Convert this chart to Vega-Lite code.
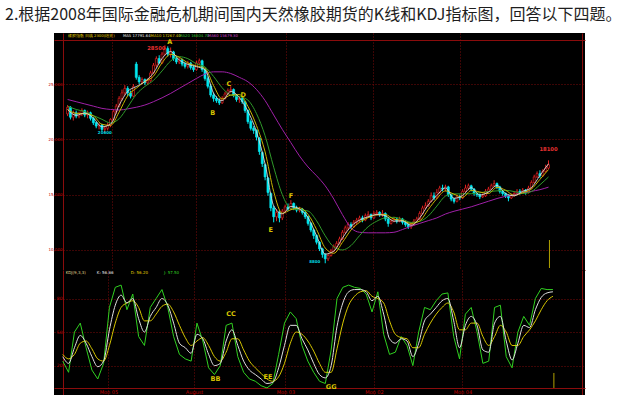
{
"$schema": "https://vega.github.io/schema/vega-lite/v6.json",
"background": "#ffffff",
"padding": {"left": 5, "top": 7, "right": 0, "bottom": 0},
"bounds": "flush",
"title": {"text": "2.根据2008年国际金融危机期间国内天然橡胶期货的K线和KDJ指标图，回答以下四题。", "anchor": "start", "dx": -43, "fontSize": 16, "font": "Noto Sans CJK SC", "fontWeight": "normal", "color": "#1e1e1e", "offset": 10},
"spacing": 0,
"config": {"view": {"fill": "#000000", "stroke": null}, "axis": {"labelFont": "DejaVu Sans"}, "text": {"font": "DejaVu Sans"}},
"datasets": {
"candles": [
{"date":"2008-03-19","open":22300,"high":23100,"low":22100,"close":22900},
{"date":"2008-03-22","open":22900,"high":23000,"low":21800,"close":22000},
{"date":"2008-03-25","open":22000,"high":22600,"low":21700,"close":22400},
{"date":"2008-03-28","open":22400,"high":22600,"low":21900,"close":22100},
{"date":"2008-03-31","open":22100,"high":22500,"low":21900,"close":22300},
{"date":"2008-04-03","open":22300,"high":22800,"low":22100,"close":22600},
{"date":"2008-04-06","open":22600,"high":22700,"low":22000,"close":22200},
{"date":"2008-04-09","open":22200,"high":22600,"low":21900,"close":22400},
{"date":"2008-04-12","open":22400,"high":22500,"low":21700,"close":21900},
{"date":"2008-04-15","open":21900,"high":22000,"low":21300,"close":21500},
{"date":"2008-04-18","open":21500,"high":21600,"low":21000,"close":21200},
{"date":"2008-04-21","open":21200,"high":21500,"low":20900,"close":21300},
{"date":"2008-04-24","open":21300,"high":21400,"low":20700,"close":20900},
{"date":"2008-04-27","open":20900,"high":21200,"low":20600,"close":21000},
{"date":"2008-04-30","open":21000,"high":21500,"low":20800,"close":21300},
{"date":"2008-05-03","open":21300,"high":21900,"low":21100,"close":21800},
{"date":"2008-05-06","open":21800,"high":22700,"low":21700,"close":22500},
{"date":"2008-05-09","open":22500,"high":23200,"low":22300,"close":23000},
{"date":"2008-05-12","open":23000,"high":23900,"low":22900,"close":23700},
{"date":"2008-05-15","open":23700,"high":24500,"low":23500,"close":24200},
{"date":"2008-05-18","open":24200,"high":24900,"low":24000,"close":24600},
{"date":"2008-05-21","open":24600,"high":24800,"low":23900,"close":24200},
{"date":"2008-05-24","open":24200,"high":24400,"low":23700,"close":23900},
{"date":"2008-05-27","open":23900,"high":25000,"low":23800,"close":24800},
{"date":"2008-05-30","open":26800,"high":27000,"low":25400,"close":25600},
{"date":"2008-06-02","open":25600,"high":25800,"low":25000,"close":25200},
{"date":"2008-06-05","open":25200,"high":25600,"low":25000,"close":25400},
{"date":"2008-06-08","open":25400,"high":25500,"low":24900,"close":25100},
{"date":"2008-06-11","open":25100,"high":25500,"low":24900,"close":25300},
{"date":"2008-06-14","open":25300,"high":26200,"low":25200,"close":26000},
{"date":"2008-06-17","open":26000,"high":26900,"low":25900,"close":26700},
{"date":"2008-06-20","open":26700,"high":27500,"low":26500,"close":27300},
{"date":"2008-06-23","open":27300,"high":27600,"low":26800,"close":26900},
{"date":"2008-06-26","open":26900,"high":27900,"low":26800,"close":27700},
{"date":"2008-06-29","open":27700,"high":28500,"low":27600,"close":28200},
{"date":"2008-07-02","open":28200,"high":28400,"low":27500,"close":27700},
{"date":"2008-07-05","open":27700,"high":28300,"low":27400,"close":27900},
{"date":"2008-07-08","open":27900,"high":28000,"low":27100,"close":27300},
{"date":"2008-07-11","open":27300,"high":27500,"low":26800,"close":27000},
{"date":"2008-07-14","open":27000,"high":27400,"low":26800,"close":27200},
{"date":"2008-07-17","open":27200,"high":27300,"low":26600,"close":26800},
{"date":"2008-07-20","open":26800,"high":27000,"low":26400,"close":26600},
{"date":"2008-07-23","open":26600,"high":27100,"low":26400,"close":26900},
{"date":"2008-07-26","open":26900,"high":27000,"low":26300,"close":26500},
{"date":"2008-07-29","open":26500,"high":26700,"low":26100,"close":26300},
{"date":"2008-08-01","open":26300,"high":27100,"low":26200,"close":26900},
{"date":"2008-08-04","open":26900,"high":27300,"low":26700,"close":27100},
{"date":"2008-08-07","open":27100,"high":27200,"low":26100,"close":26300},
{"date":"2008-08-10","open":26300,"high":26400,"low":25300,"close":25500},
{"date":"2008-08-13","open":25500,"high":25700,"low":24600,"close":24800},
{"date":"2008-08-16","open":24800,"high":25000,"low":23800,"close":24000},
{"date":"2008-08-19","open":24000,"high":24200,"low":23400,"close":23700},
{"date":"2008-08-22","open":23700,"high":23900,"low":23300,"close":23500},
{"date":"2008-08-25","open":23500,"high":23700,"low":23100,"close":23300},
{"date":"2008-08-28","open":23300,"high":23900,"low":23200,"close":23700},
{"date":"2008-08-31","open":23700,"high":24300,"low":23600,"close":24100},
{"date":"2008-09-03","open":24100,"high":24600,"low":24000,"close":24400},
{"date":"2008-09-06","open":24400,"high":24800,"low":24200,"close":24500},
{"date":"2008-09-09","open":24500,"high":24600,"low":23800,"close":24000},
{"date":"2008-09-12","open":24000,"high":24100,"low":23400,"close":23600},
{"date":"2008-09-15","open":23600,"high":23900,"low":23300,"close":23700},
{"date":"2008-09-18","open":23700,"high":23900,"low":23200,"close":23400},
{"date":"2008-09-21","open":23400,"high":23500,"low":22400,"close":22600},
{"date":"2008-09-24","open":22600,"high":22700,"low":21400,"close":21600},
{"date":"2008-09-27","open":21600,"high":21800,"low":20800,"close":21000},
{"date":"2008-09-30","open":21000,"high":21200,"low":20500,"close":20800},
{"date":"2008-10-03","open":20800,"high":20900,"low":19900,"close":20200},
{"date":"2008-10-06","open":20100,"high":20200,"low":18600,"close":18900},
{"date":"2008-10-09","open":18800,"high":18900,"low":17500,"close":17800},
{"date":"2008-10-12","open":17700,"high":17800,"low":16300,"close":16600},
{"date":"2008-10-15","open":16500,"high":16600,"low":14900,"close":15200},
{"date":"2008-10-18","open":15100,"high":15200,"low":13500,"close":13800},
{"date":"2008-10-21","open":13800,"high":14000,"low":12500,"close":13000},
{"date":"2008-10-24","open":13000,"high":13700,"low":12600,"close":13400},
{"date":"2008-10-27","open":13400,"high":13600,"low":12500,"close":12900},
{"date":"2008-10-30","open":12900,"high":13700,"low":12700,"close":13500},
{"date":"2008-11-02","open":13500,"high":14100,"low":13300,"close":13900},
{"date":"2008-11-05","open":13900,"high":14200,"low":13500,"close":13700},
{"date":"2008-11-08","open":13700,"high":14500,"low":13600,"close":14200},
{"date":"2008-11-11","open":14200,"high":14300,"low":13600,"close":13800},
{"date":"2008-11-14","open":13800,"high":14000,"low":13400,"close":13600},
{"date":"2008-11-17","open":13600,"high":13900,"low":13400,"close":13700},
{"date":"2008-11-20","open":13700,"high":13800,"low":13200,"close":13400},
{"date":"2008-11-23","open":13400,"high":13500,"low":12800,"close":13000},
{"date":"2008-11-26","open":13000,"high":13100,"low":12200,"close":12400},
{"date":"2008-11-29","open":12400,"high":12500,"low":11600,"close":11800},
{"date":"2008-12-02","open":11800,"high":11900,"low":11000,"close":11300},
{"date":"2008-12-05","open":11300,"high":11400,"low":10500,"close":10700},
{"date":"2008-12-08","open":10700,"high":10800,"low":9900,"close":10100},
{"date":"2008-12-11","open":10100,"high":10200,"low":9300,"close":9600},
{"date":"2008-12-14","open":9600,"high":9700,"low":8800,"close":9200},
{"date":"2008-12-17","open":9200,"high":9700,"low":9000,"close":9500},
{"date":"2008-12-20","open":9500,"high":10100,"low":9400,"close":9900},
{"date":"2008-12-23","open":9900,"high":10500,"low":9800,"close":10300},
{"date":"2008-12-26","open":10300,"high":10800,"low":10100,"close":10600},
{"date":"2008-12-29","open":10600,"high":11200,"low":10500,"close":11000},
{"date":"2009-01-01","open":11000,"high":11800,"low":10900,"close":11600},
{"date":"2009-01-04","open":11600,"high":12200,"low":11500,"close":12000},
{"date":"2009-01-07","open":12000,"high":12500,"low":11800,"close":12300},
{"date":"2009-01-10","open":12300,"high":12500,"low":11900,"close":12100},
{"date":"2009-01-13","open":12100,"high":12700,"low":12000,"close":12500},
{"date":"2009-01-16","open":12500,"high":12900,"low":12300,"close":12700},
{"date":"2009-01-19","open":12700,"high":13100,"low":12500,"close":12900},
{"date":"2009-01-22","open":12900,"high":13100,"low":12500,"close":12700},
{"date":"2009-01-25","open":12700,"high":13300,"low":12600,"close":13100},
{"date":"2009-01-28","open":13100,"high":13500,"low":12900,"close":13200},
{"date":"2009-01-31","open":13200,"high":13300,"low":12700,"close":12900},
{"date":"2009-02-03","open":12900,"high":13500,"low":12800,"close":13300},
{"date":"2009-02-06","open":13300,"high":13600,"low":13100,"close":13400},
{"date":"2009-02-09","open":13400,"high":13500,"low":13000,"close":13200},
{"date":"2009-02-12","open":13200,"high":13600,"low":13000,"close":13300},
{"date":"2009-02-15","open":13300,"high":13400,"low":12600,"close":12800},
{"date":"2009-02-18","open":12800,"high":12900,"low":12100,"close":12400},
{"date":"2009-02-21","open":12400,"high":12800,"low":12300,"close":12600},
{"date":"2009-02-24","open":12600,"high":13000,"low":12500,"close":12800},
{"date":"2009-02-27","open":12800,"high":12900,"low":12400,"close":12600},
{"date":"2009-03-02","open":12600,"high":13000,"low":12500,"close":12800},
{"date":"2009-03-05","open":12800,"high":12900,"low":12300,"close":12500},
{"date":"2009-03-08","open":12500,"high":12600,"low":12100,"close":12300},
{"date":"2009-03-11","open":12300,"high":12400,"low":11900,"close":12100},
{"date":"2009-03-14","open":12100,"high":12400,"low":11900,"close":12300},
{"date":"2009-03-17","open":12300,"high":12800,"low":12200,"close":12600},
{"date":"2009-03-20","open":12600,"high":13000,"low":12500,"close":12800},
{"date":"2009-03-23","open":12800,"high":13500,"low":12700,"close":13300},
{"date":"2009-03-26","open":13300,"high":14000,"low":13200,"close":13800},
{"date":"2009-03-29","open":13800,"high":14300,"low":13700,"close":14000},
{"date":"2009-04-01","open":14000,"high":14600,"low":13900,"close":14400},
{"date":"2009-04-04","open":14400,"high":15200,"low":14300,"close":14900},
{"date":"2009-04-07","open":14900,"high":15200,"low":14500,"close":14700},
{"date":"2009-04-10","open":14700,"high":15500,"low":14600,"close":15200},
{"date":"2009-04-13","open":15200,"high":15800,"low":15100,"close":15600},
{"date":"2009-04-16","open":15600,"high":15900,"low":15300,"close":15500},
{"date":"2009-04-19","open":15500,"high":15900,"low":15300,"close":15700},
{"date":"2009-04-22","open":15700,"high":15800,"low":14800,"close":15000},
{"date":"2009-04-25","open":15000,"high":15100,"low":14400,"close":14600},
{"date":"2009-04-28","open":14600,"high":14700,"low":14200,"close":14400},
{"date":"2009-05-01","open":14400,"high":15000,"low":14300,"close":14800},
{"date":"2009-05-04","open":14800,"high":15000,"low":14500,"close":14700},
{"date":"2009-05-07","open":14700,"high":15500,"low":14600,"close":15300},
{"date":"2009-05-10","open":15300,"high":15900,"low":15200,"close":15600},
{"date":"2009-05-13","open":15600,"high":16000,"low":15400,"close":15800},
{"date":"2009-05-16","open":15800,"high":15900,"low":15300,"close":15500},
{"date":"2009-05-19","open":15500,"high":15600,"low":14900,"close":15100},
{"date":"2009-05-22","open":15100,"high":15200,"low":14800,"close":15000},
{"date":"2009-05-25","open":15000,"high":15100,"low":14600,"close":14800},
{"date":"2009-05-28","open":14800,"high":15100,"low":14700,"close":14900},
{"date":"2009-05-31","open":14900,"high":15500,"low":14800,"close":15300},
{"date":"2009-06-03","open":15300,"high":15700,"low":15200,"close":15500},
{"date":"2009-06-06","open":15500,"high":16000,"low":15400,"close":15800},
{"date":"2009-06-09","open":15800,"high":16300,"low":15700,"close":16000},
{"date":"2009-06-12","open":16000,"high":16100,"low":15500,"close":15700},
{"date":"2009-06-15","open":15700,"high":15800,"low":15100,"close":15300},
{"date":"2009-06-18","open":15300,"high":15400,"low":14900,"close":15100},
{"date":"2009-06-21","open":15100,"high":15200,"low":14700,"close":14900},
{"date":"2009-06-24","open":14900,"high":15000,"low":14400,"close":14700},
{"date":"2009-06-27","open":14700,"high":15100,"low":14600,"close":14900},
{"date":"2009-06-30","open":14900,"high":15300,"low":14800,"close":15100},
{"date":"2009-07-03","open":15100,"high":15500,"low":15000,"close":15300},
{"date":"2009-07-06","open":15300,"high":15500,"low":15000,"close":15200},
{"date":"2009-07-09","open":15200,"high":15600,"low":15100,"close":15400},
{"date":"2009-07-12","open":15400,"high":15500,"low":15000,"close":15200},
{"date":"2009-07-15","open":15200,"high":15800,"low":15100,"close":15600},
{"date":"2009-07-18","open":15600,"high":16300,"low":15500,"close":16100},
{"date":"2009-07-21","open":16100,"high":16800,"low":16000,"close":16600},
{"date":"2009-07-24","open":16600,"high":17100,"low":16500,"close":16900},
{"date":"2009-07-27","open":16900,"high":17200,"low":16500,"close":16700},
{"date":"2009-07-30","open":16700,"high":17300,"low":16600,"close":17100},
{"date":"2009-08-02","open":17100,"high":17700,"low":17000,"close":17400},
{"date":"2009-08-05","open":17400,"high":18100,"low":17300,"close":17700}
],
"ma": [
{"date":"2008-03-19","ma5":22700,"ma10":22700,"ma20":23000,"ma60":23600},
{"date":"2008-03-28","ma5":22170,"ma10":22350,"ma20":22700,"ma60":23400},
{"date":"2008-04-06","ma5":22370,"ma10":22320,"ma20":22500,"ma60":23200},
{"date":"2008-04-15","ma5":21930,"ma10":22120,"ma20":22150,"ma60":23000},
{"date":"2008-04-24","ma5":21130,"ma10":21360,"ma20":21810,"ma60":22800},
{"date":"2008-05-03","ma5":21370,"ma10":21260,"ma20":21480,"ma60":22700},
{"date":"2008-05-12","ma5":23070,"ma10":22460,"ma20":21860,"ma60":22650},
{"date":"2008-05-21","ma5":24330,"ma10":23940,"ma20":22920,"ma60":22750},
{"date":"2008-05-30","ma5":24770,"ma10":24620,"ma20":24060,"ma60":22900},
{"date":"2008-06-08","ma5":25230,"ma10":25220,"ma20":24780,"ma60":23100},
{"date":"2008-06-17","ma5":26000,"ma10":25700,"ma20":25330,"ma60":23400},
{"date":"2008-06-26","ma5":27300,"ma10":26920,"ma20":26180,"ma60":23750},
{"date":"2008-07-05","ma5":27930,"ma10":27680,"ma20":27080,"ma60":24150},
{"date":"2008-07-14","ma5":27170,"ma10":27420,"ma20":27470,"ma60":24600},
{"date":"2008-07-23","ma5":26770,"ma10":26900,"ma20":27290,"ma60":25050},
{"date":"2008-08-01","ma5":26570,"ma10":26640,"ma20":26830,"ma60":25500},
{"date":"2008-08-10","ma5":26300,"ma10":26420,"ma20":26540,"ma60":25900},
{"date":"2008-08-19","ma5":24170,"ma10":24860,"ma20":25680,"ma60":26100},
{"date":"2008-08-28","ma5":23500,"ma10":23640,"ma20":24660,"ma60":26100},
{"date":"2008-09-06","ma5":24330,"ma10":24000,"ma20":24000,"ma60":25950},
{"date":"2008-09-15","ma5":23770,"ma10":24040,"ma20":23870,"ma60":25600},
{"date":"2008-09-24","ma5":22530,"ma10":22980,"ma20":23540,"ma60":25200},
{"date":"2008-10-03","ma5":20670,"ma10":21240,"ma20":22320,"ma60":24500},
{"date":"2008-10-12","ma5":17770,"ma10":18860,"ma20":20320,"ma60":23500},
{"date":"2008-10-21","ma5":14000,"ma10":15280,"ma20":17480,"ma60":22200},
{"date":"2008-10-30","ma5":13270,"ma10":13320,"ma20":15010,"ma60":20900},
{"date":"2008-11-08","ma5":13930,"ma10":13640,"ma20":13730,"ma60":19700},
{"date":"2008-11-17","ma5":13700,"ma10":13800,"ma20":13630,"ma60":18500},
{"date":"2008-11-26","ma5":12930,"ma10":13220,"ma20":13520,"ma60":17500},
{"date":"2008-12-05","ma5":11270,"ma10":11840,"ma20":12630,"ma60":16700},
{"date":"2008-12-14","ma5":9630,"ma10":10180,"ma20":11280,"ma60":15800},
{"date":"2008-12-23","ma5":9900,"ma10":9700,"ma20":10270,"ma60":14600},
{"date":"2009-01-01","ma5":11070,"ma10":10680,"ma20":10000,"ma60":13200},
{"date":"2009-01-10","ma5":12130,"ma10":11800,"ma20":10400,"ma60":12000},
{"date":"2009-01-19","ma5":12700,"ma10":12500,"ma20":11300,"ma60":11600},
{"date":"2009-01-28","ma5":13000,"ma10":12920,"ma20":12100,"ma60":11550},
{"date":"2009-02-06","ma5":13200,"ma10":13180,"ma20":12600,"ma60":11550},
{"date":"2009-02-15","ma5":13100,"ma10":13200,"ma20":12900,"ma60":11550},
{"date":"2009-02-24","ma5":12600,"ma10":12780,"ma20":12950,"ma60":11600},
{"date":"2009-03-05","ma5":12630,"ma10":12660,"ma20":12780,"ma60":11850},
{"date":"2009-03-14","ma5":12230,"ma10":12400,"ma20":12490,"ma60":12150},
{"date":"2009-03-23","ma5":12900,"ma10":12620,"ma20":12590,"ma60":12400},
{"date":"2009-04-01","ma5":14070,"ma10":13660,"ma20":13070,"ma60":12650},
{"date":"2009-04-10","ma5":14930,"ma10":14640,"ma20":13970,"ma60":12900},
{"date":"2009-04-19","ma5":15600,"ma10":15340,"ma20":14870,"ma60":13250},
{"date":"2009-04-28","ma5":14670,"ma10":15040,"ma20":15070,"ma60":13500},
{"date":"2009-05-07","ma5":14930,"ma10":14760,"ma20":15070,"ma60":13700},
{"date":"2009-05-16","ma5":15630,"ma10":15380,"ma20":15080,"ma60":13900},
{"date":"2009-05-25","ma5":14970,"ma10":15240,"ma20":15180,"ma60":14150},
{"date":"2009-06-03","ma5":15230,"ma10":15100,"ma20":15280,"ma60":14400},
{"date":"2009-06-12","ma5":15830,"ma10":15660,"ma20":15340,"ma60":14650},
{"date":"2009-06-21","ma5":15100,"ma10":15400,"ma20":15390,"ma60":14850},
{"date":"2009-06-30","ma5":14900,"ma10":14940,"ma20":15280,"ma60":15000},
{"date":"2009-07-09","ma5":15300,"ma10":15180,"ma20":15100,"ma60":15150},
{"date":"2009-07-18","ma5":15630,"ma10":15500,"ma20":15280,"ma60":15300},
{"date":"2009-07-27","ma5":16730,"ma10":16380,"ma20":15890,"ma60":15450},
{"date":"2009-08-05","ma5":17790,"ma10":17270,"ma20":16600,"ma60":15680}
],
"kdj": [
{"date":"2008-03-19","K":28,"D":30,"J":24},
{"date":"2008-03-25","K":22,"D":26,"J":14},
{"date":"2008-03-31","K":36,"D":30,"J":50},
{"date":"2008-04-06","K":47,"D":40,"J":58},
{"date":"2008-04-12","K":40,"D":42,"J":36},
{"date":"2008-04-18","K":28,"D":35,"J":16},
{"date":"2008-04-24","K":19,"D":26,"J":8},
{"date":"2008-04-30","K":24,"D":24,"J":22},
{"date":"2008-05-06","K":52,"D":38,"J":72},
{"date":"2008-05-12","K":74,"D":58,"J":90},
{"date":"2008-05-18","K":83,"D":72,"J":92},
{"date":"2008-05-24","K":76,"D":76,"J":70},
{"date":"2008-05-30","K":80,"D":78,"J":84},
{"date":"2008-06-05","K":62,"D":72,"J":46},
{"date":"2008-06-11","K":50,"D":60,"J":38},
{"date":"2008-06-17","K":64,"D":60,"J":72},
{"date":"2008-06-23","K":72,"D":66,"J":80},
{"date":"2008-06-29","K":80,"D":73,"J":88},
{"date":"2008-07-05","K":74,"D":75,"J":72},
{"date":"2008-07-11","K":58,"D":68,"J":46},
{"date":"2008-07-17","K":40,"D":56,"J":30},
{"date":"2008-07-23","K":36,"D":45,"J":26},
{"date":"2008-07-29","K":31,"D":38,"J":24},
{"date":"2008-08-04","K":48,"D":42,"J":58},
{"date":"2008-08-10","K":44,"D":45,"J":42},
{"date":"2008-08-16","K":30,"D":38,"J":18},
{"date":"2008-08-22","K":20,"D":28,"J":12},
{"date":"2008-08-28","K":22,"D":24,"J":20},
{"date":"2008-09-03","K":42,"D":32,"J":56},
{"date":"2008-09-09","K":52,"D":44,"J":58},
{"date":"2008-09-15","K":38,"D":44,"J":28},
{"date":"2008-09-21","K":24,"D":34,"J":14},
{"date":"2008-09-27","K":16,"D":24,"J":8},
{"date":"2008-10-03","K":12,"D":18,"J":6},
{"date":"2008-10-09","K":8,"D":13,"J":2},
{"date":"2008-10-15","K":4,"D":8,"J":0},
{"date":"2008-10-21","K":5,"D":6,"J":4},
{"date":"2008-10-27","K":18,"D":10,"J":30},
{"date":"2008-11-02","K":38,"D":22,"J":58},
{"date":"2008-11-08","K":56,"D":40,"J":68},
{"date":"2008-11-14","K":56,"D":50,"J":62},
{"date":"2008-11-20","K":44,"D":48,"J":38},
{"date":"2008-11-26","K":34,"D":42,"J":24},
{"date":"2008-12-02","K":22,"D":33,"J":14},
{"date":"2008-12-08","K":12,"D":22,"J":6},
{"date":"2008-12-14","K":9,"D":14,"J":4},
{"date":"2008-12-20","K":20,"D":14,"J":34},
{"date":"2008-12-26","K":55,"D":35,"J":80},
{"date":"2009-01-01","K":76,"D":58,"J":90},
{"date":"2009-01-07","K":86,"D":74,"J":92},
{"date":"2009-01-13","K":88,"D":82,"J":90},
{"date":"2009-01-19","K":88,"D":86,"J":89},
{"date":"2009-01-25","K":86,"D":87,"J":84},
{"date":"2009-01-31","K":78,"D":82,"J":68},
{"date":"2009-02-06","K":82,"D":80,"J":86},
{"date":"2009-02-12","K":66,"D":76,"J":48},
{"date":"2009-02-18","K":44,"D":60,"J":30},
{"date":"2009-02-24","K":40,"D":48,"J":32},
{"date":"2009-03-02","K":44,"D":45,"J":46},
{"date":"2009-03-08","K":42,"D":44,"J":38},
{"date":"2009-03-14","K":28,"D":36,"J":20},
{"date":"2009-03-20","K":40,"D":36,"J":50},
{"date":"2009-03-26","K":60,"D":48,"J":72},
{"date":"2009-04-01","K":66,"D":58,"J":70},
{"date":"2009-04-07","K":72,"D":66,"J":78},
{"date":"2009-04-13","K":78,"D":72,"J":84},
{"date":"2009-04-19","K":80,"D":76,"J":85},
{"date":"2009-04-25","K":60,"D":68,"J":46},
{"date":"2009-05-01","K":36,"D":52,"J":26},
{"date":"2009-05-07","K":56,"D":52,"J":66},
{"date":"2009-05-13","K":64,"D":58,"J":72},
{"date":"2009-05-19","K":56,"D":58,"J":50},
{"date":"2009-05-25","K":34,"D":46,"J":22},
{"date":"2009-05-31","K":32,"D":38,"J":24},
{"date":"2009-06-06","K":58,"D":46,"J":72},
{"date":"2009-06-12","K":64,"D":56,"J":74},
{"date":"2009-06-18","K":42,"D":50,"J":28},
{"date":"2009-06-24","K":25,"D":38,"J":18},
{"date":"2009-06-30","K":40,"D":38,"J":50},
{"date":"2009-07-06","K":56,"D":46,"J":64},
{"date":"2009-07-12","K":54,"D":52,"J":56},
{"date":"2009-07-18","K":70,"D":60,"J":80},
{"date":"2009-07-24","K":81,"D":70,"J":89},
{"date":"2009-07-30","K":85,"D":78,"J":88},
{"date":"2009-08-05","K":86,"D":82,"J":88}
],
"pmarks": [
{"date":"2008-07-04","price":28800,"text":"A","kind":"point"},
{"date":"2008-08-18","price":22380,"text":"B","kind":"point"},
{"date":"2008-09-04","price":25000,"text":"C","kind":"point"},
{"date":"2008-09-19","price":24010,"text":"D","kind":"point"},
{"date":"2008-10-18","price":11800,"text":"E","kind":"point"},
{"date":"2008-11-08","price":14880,"text":"F","kind":"point"},
{"date":"2008-12-10","price":7930,"text":"G","kind":"point"},
{"date":"2008-06-20","price":28250,"text":"28500","kind":"high"},
{"date":"2009-08-05","price":19120,"text":"18100","kind":"high"},
{"date":"2008-04-27","price":20570,"text":"20600","kind":"low"},
{"date":"2008-12-03","price":8910,"text":"8800","kind":"low"}
],
"pheader": [
{"date":"2008-03-19","value":29340,"text":"橡胶指数 日线 2300(结束)","series":"name"},
{"date":"2008-05-16","value":29340,"text":"MA5 17791.64","series":"MA5"},
{"date":"2008-06-14","value":29340,"text":"MA10 17267.40","series":"MA10"},
{"date":"2008-07-14","value":29340,"text":"MA20 16604.70","series":"MA20"},
{"date":"2008-08-13","value":29340,"text":"MA60 15679.30","series":"MA60"}
],
"kmarks": [
{"date":"2008-08-23","value":8,"text":"BB"},
{"date":"2008-09-08","value":66,"text":"CC"},
{"date":"2008-10-16","value":9.8,"text":"EE"},
{"date":"2008-12-20","value":1,"text":"GG"}
],
"kheader": [
{"date":"2008-03-22","value":102.8,"text":"KDJ(9,3,3)","series":"name"},
{"date":"2008-04-23","value":102.8,"text":"K: 56.66","series":"K"},
{"date":"2008-05-28","value":102.8,"text":"D: 56.20","series":"D"},
{"date":"2008-07-01","value":102.8,"text":"J: 57.50","series":"J"}
],
"cursor": [
{"date":"2009-08-06","p1":8370,"p2":10900,"k1":0,"k2":13.4}
]
},
"vconcat": [
{
"width": 531,
"height": 237,
"resolve": {"axis": {"x": "independent", "y": "independent"}, "scale": {"color": "independent", "size": "independent"}},
"layer": [
{
"data": {"name": "candles"},
"mark": {"type": "rule", "strokeWidth": 1},
"encoding": {
"x": {"field": "date", "type": "temporal", "scale": {"domain": [{"utc": true, "year": 2008, "month": 3, "date": 10}, {"utc": true, "year": 2009, "month": 9, "date": 7}]}, "axis": {"orient": "bottom", "values": [{"utc": true, "year": 2008, "month": 5, "date": 5}, {"utc": true, "year": 2008, "month": 8, "date": 1}, {"utc": true, "year": 2008, "month": 11, "date": 3}, {"utc": true, "year": 2009, "month": 2, "date": 2}, {"utc": true, "year": 2009, "month": 5, "date": 4}], "labels": false, "ticks": false, "grid": true, "gridColor": "#7a0a0a", "gridDash": [1, 2], "domainColor": "#8a0c0c", "title": null}},
"y": {"field": "low", "type": "quantitative", "scale": {"domain": [8190, 29610], "nice": false, "zero": false}, "axis": {"orient": "left", "offset": -9, "values": [10000, 15000, 20000, 25000], "labelColor": "#c00000", "labelFontSize": 4, "labelPadding": 1, "ticks": false, "grid": true, "gridColor": "#7a0a0a", "gridDash": [1, 2], "domainColor": "#8a0c0c", "title": null}},
"y2": {"field": "high"},
"color": {"condition": {"test": "datum.close >= datum.open", "value": "#e02020"}, "value": "#00e8f0"}
}
},
{
"data": {"name": "candles"},
"mark": {"type": "bar", "width": 2, "strokeWidth": 0.7},
"encoding": {
"x": {"field": "date", "type": "temporal", "axis": {"orient": "top", "offset": -7, "labels": false, "ticks": false, "grid": false, "domainColor": "#8a0c0c", "title": null}},
"y": {"field": "open", "type": "quantitative", "axis": {"orient": "right", "offset": -3, "labels": false, "ticks": false, "grid": false, "domainColor": "#8a0c0c", "title": null}},
"y2": {"field": "close"},
"fill": {"condition": {"test": "datum.close >= datum.open", "value": "#000000"}, "value": "#00e8f0"},
"stroke": {"condition": {"test": "datum.close >= datum.open", "value": "#e02020"}, "value": "#00e8f0"}
}
},
{
"data": {"name": "ma"},
"mark": {"type": "line", "color": "#a020a8", "strokeWidth": 1, "interpolate": "monotone"},
"encoding": {"x": {"field": "date", "type": "temporal", "axis": null}, "y": {"field": "ma60", "type": "quantitative", "axis": null}}
},
{
"data": {"name": "ma"},
"mark": {"type": "line", "color": "#2f9a2a", "strokeWidth": 1, "interpolate": "monotone"},
"encoding": {"x": {"field": "date", "type": "temporal", "axis": null}, "y": {"field": "ma20", "type": "quantitative", "axis": null}}
},
{
"data": {"name": "ma"},
"mark": {"type": "line", "color": "#c8b400", "strokeWidth": 1, "interpolate": "monotone"},
"encoding": {"x": {"field": "date", "type": "temporal", "axis": null}, "y": {"field": "ma10", "type": "quantitative", "axis": null}}
},
{
"data": {"name": "ma"},
"mark": {"type": "line", "color": "#d8d8d8", "strokeWidth": 0.9, "interpolate": "monotone"},
"encoding": {"x": {"field": "date", "type": "temporal", "axis": null}, "y": {"field": "ma5", "type": "quantitative", "axis": null}}
},
{
"data": {"name": "cursor"},
"mark": {"type": "rule", "color": "#b0a000", "strokeWidth": 1},
"encoding": {"x": {"field": "date", "type": "temporal", "axis": null}, "y": {"field": "p1", "type": "quantitative", "axis": null}, "y2": {"field": "p2"}}
},
{
"data": {"name": "pmarks"},
"mark": {"type": "text", "fontWeight": "bold"},
"encoding": {
"x": {"field": "date", "type": "temporal", "axis": null},
"y": {"field": "price", "type": "quantitative", "axis": null},
"text": {"field": "text"},
"color": {"field": "kind", "type": "nominal", "scale": {"domain": ["point", "high", "low"], "range": ["#d8c400", "#e83030", "#00d8e0"]}, "legend": null},
"size": {"field": "kind", "type": "ordinal", "scale": {"domain": ["point", "high", "low"], "range": [6.5, 4, 4]}, "legend": null}
}
},
{
"data": {"name": "pheader"},
"mark": {"type": "text", "align": "left", "fontSize": 3.8},
"encoding": {
"x": {"field": "date", "type": "temporal", "axis": null},
"y": {"field": "value", "type": "quantitative", "axis": null},
"text": {"field": "text"},
"color": {"field": "series", "type": "nominal", "scale": {"domain": ["name", "MA5", "MA10", "MA20", "MA60"], "range": ["#e0d000", "#e8e8e8", "#e0d000", "#30c030", "#d040d0"]}, "legend": null}
}
}
]
},
{
"width": 531,
"height": 125,
"resolve": {"axis": {"x": "independent", "y": "independent"}, "scale": {"color": "independent"}},
"layer": [
{
"data": {"name": "kdj"},
"mark": {"type": "line", "color": "#30d020", "strokeWidth": 1},
"encoding": {
"x": {"field": "date", "type": "temporal", "scale": {"domain": [{"utc": true, "year": 2008, "month": 3, "date": 10}, {"utc": true, "year": 2009, "month": 9, "date": 7}]}, "axis": {"orient": "bottom", "offset": -7, "values": [{"utc": true, "year": 2008, "month": 5, "date": 5}, {"utc": true, "year": 2008, "month": 8, "date": 1}, {"utc": true, "year": 2008, "month": 11, "date": 3}, {"utc": true, "year": 2009, "month": 2, "date": 2}, {"utc": true, "year": 2009, "month": 5, "date": 4}], "format": "%m/%d", "formatType": "utc", "labelColor": "#c00000", "labelFontSize": 5, "labelPadding": 1, "ticks": false, "grid": true, "gridColor": "#7a0a0a", "gridDash": [1, 2], "domainColor": "#8a0c0c", "title": null}},
"y": {"field": "J", "type": "quantitative", "scale": {"domain": [-6.3, 105.5], "nice": false, "zero": false}, "axis": {"orient": "left", "offset": -9, "values": [20, 50, 80], "labelColor": "#c00000", "labelFontSize": 4.5, "labelPadding": 1, "ticks": false, "grid": true, "gridColor": "#7a0a0a", "gridDash": [1, 2], "domainColor": "#8a0c0c", "title": null}}
}
},
{
"data": {"name": "kdj"},
"mark": {"type": "line", "color": "#d8c800", "strokeWidth": 1, "interpolate": "monotone"},
"encoding": {
"x": {"field": "date", "type": "temporal", "axis": null},
"y": {"field": "D", "type": "quantitative", "axis": {"orient": "right", "offset": -3, "labels": false, "ticks": false, "grid": false, "domainColor": "#8a0c0c", "title": null}}
}
},
{
"data": {"name": "kdj"},
"mark": {"type": "line", "color": "#e0e0e0", "strokeWidth": 1, "interpolate": "monotone"},
"encoding": {"x": {"field": "date", "type": "temporal", "axis": null}, "y": {"field": "K", "type": "quantitative", "axis": null}}
},
{
"data": {"name": "cursor"},
"mark": {"type": "rule", "color": "#b0a000", "strokeWidth": 1},
"encoding": {"x": {"field": "date", "type": "temporal", "axis": null}, "y": {"field": "k1", "type": "quantitative", "axis": null}, "y2": {"field": "k2"}}
},
{
"data": {"name": "kmarks"},
"mark": {"type": "text", "fontSize": 6.5, "fontWeight": "bold", "color": "#d8c400"},
"encoding": {"x": {"field": "date", "type": "temporal", "axis": null}, "y": {"field": "value", "type": "quantitative", "axis": null}, "text": {"field": "text"}}
},
{
"data": {"name": "kheader"},
"mark": {"type": "text", "align": "left", "fontSize": 4},
"encoding": {
"x": {"field": "date", "type": "temporal", "axis": null},
"y": {"field": "value", "type": "quantitative", "axis": null},
"text": {"field": "text"},
"color": {"field": "series", "type": "nominal", "scale": {"domain": ["name", "K", "D", "J"], "range": ["#e0d890", "#e8e8e8", "#e0d000", "#30d020"]}, "legend": null}
}
}
]
}
]
}
